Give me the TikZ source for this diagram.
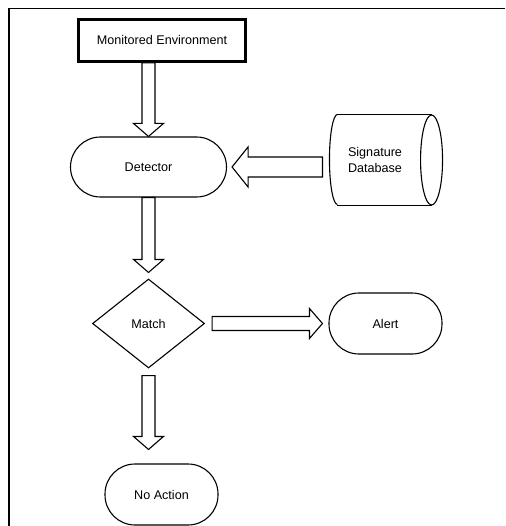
\documentclass[tikz,border=0pt]{standalone}
\usepackage{fontspec}
\setmainfont{Liberation Sans}
\usetikzlibrary{shapes.geometric,calc}
\tikzset{
  x=1pt,y=-1pt,
  base/.style={draw=black, line width=1.1pt, fill=white, inner sep=0pt, align=center,
    font=\fontsize{12.6}{16}\selectfont},
  envbox/.style={base, rectangle, line width=2.8pt, minimum width=167pt, minimum height=42pt},
  termbox/.style={base, rectangle, rounded corners=30pt},
  decbox/.style={base, diamond, aspect=1.26, minimum width=112pt, minimum height=89pt},
  blockarrow/.style={draw=black, line width=1.1pt, fill=white, line join=miter},
  framestyle/.style={draw=black, line width=1.6pt},
}
\newcommand\downblock[2]{%
  \draw[blockarrow] ([xshift=-6.5pt]#1) -- ([xshift=-6.5pt,yshift=13pt]#2) -- ([xshift=-15pt,yshift=13pt]#2)
    -- (#2) -- ([xshift=15pt,yshift=13pt]#2) -- ([xshift=6.5pt,yshift=13pt]#2) -- ([xshift=6.5pt]#1) -- cycle;}
\begin{document}
\begin{tikzpicture}
\useasboundingbox (0,0) rectangle (505,526);
% frame (top and left edges)
\draw[framestyle] (505,8.5) -- (9,8.5) -- (9,526);

\node[envbox] (env) at (162,40.5) {Monitored Environment};
\node[termbox, minimum width=156pt, minimum height=60pt] (det) at (148.5,167) {Detector};
\node[decbox] (match) at (148.5,323.5) {Match};
\node[termbox, minimum width=113pt, minimum height=61pt] (alert) at (385.5,323.5) {Alert};
\node[termbox, minimum width=113pt, minimum height=61pt] (noact) at (161.5,494.5) {No Action};

% signature database (horizontal cylinder)
\node[base, draw=none, fill=none, minimum width=90pt, minimum height=90pt] (db) at (375,160) {Signature\\Database};
\draw[line width=1.1pt] ([xshift=8pt]db.north west) -- ([xshift=11pt]db.north east);
\draw[line width=1.1pt] ([xshift=8pt]db.south west) -- ([xshift=11pt]db.south east);
\draw[line width=1.1pt] ([xshift=8pt]db.north west) arc[start angle=90, end angle=270, x radius=8pt, y radius=45pt];
\draw[line width=1.1pt] ([xshift=11pt]db.east) ellipse[x radius=11pt, y radius=45pt];

% connectors
\coordinate (a1s) at (det.north |- env.south);
\downblock{a1s}{det.north}
\coordinate (a2t) at ([yshift=6pt]match.north);
\downblock{det.south}{a2t}
\coordinate (a3s) at ([yshift=-7pt]match.south);
\coordinate (a3t) at ([yshift=14pt]match.south |- noact.north);
\downblock{a3s}{a3t}

% Match -> Alert
\coordinate (a4s) at ([xshift=7pt]match.east);
\coordinate (a4t) at ([xshift=-6pt]alert.west);
\draw[blockarrow] ([yshift=7pt]a4s) -- ([xshift=-13pt,yshift=7pt]a4t) -- ([xshift=-13pt,yshift=15pt]a4t)
  -- (a4t) -- ([xshift=-13pt,yshift=-15pt]a4t) -- ([xshift=-13pt,yshift=-7pt]a4t) -- ([yshift=-7pt]a4s) -- cycle;

% Database -> Detector
\coordinate (a5s) at ([xshift=-7pt]db.west |- det.east);
\coordinate (a5t) at ([xshift=5pt]det.east);
\draw[blockarrow] ([yshift=10pt]a5s) -- ([xshift=16pt,yshift=10pt]a5t) -- ([xshift=16pt,yshift=20pt]a5t)
  -- (a5t) -- ([xshift=16pt,yshift=-20pt]a5t) -- ([xshift=16pt,yshift=-10pt]a5t) -- ([yshift=-10pt]a5s) -- cycle;
\end{tikzpicture}
\end{document}
